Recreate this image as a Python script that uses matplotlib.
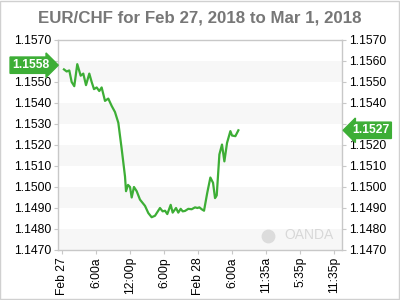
import matplotlib
matplotlib.use("Agg")
import matplotlib.pyplot as plt
import numpy as np

plt.rcParams['font.family'] = ['Liberation Sans', 'DejaVu Sans']

# EUR/CHF quotes: hours since Feb 27 00:00 and rate
hours = [0.35, 0.83, 1.29, 1.71, 2.17, 2.70, 3.30, 3.76, 4.24, 4.82, 5.24, 5.65,
         6.12, 6.58, 7.00, 7.59, 8.17, 8.77, 9.35, 9.94, 10.54, 11.12, 11.30,
         11.65, 12.00, 12.30, 12.70, 13.18, 13.76, 14.65, 15.23, 15.82, 16.41,
         17.29, 17.76, 18.18, 18.58, 19.18, 19.53, 20.12, 20.52, 20.94, 21.30,
         21.70, 22.29, 22.88, 23.47, 23.89, 24.24, 24.65, 25.06, 25.62, 26.18,
         26.65, 27.00, 27.30, 27.77, 28.23, 28.65, 29.12, 29.71, 30.00, 30.59,
         31.12]
rates = [1.1556, 1.1555, 1.15555, 1.1550, 1.1548, 1.15585, 1.1553, 1.1554,
         1.15485, 1.1554, 1.1550, 1.15466, 1.15474, 1.15457, 1.15474, 1.1541,
         1.15421, 1.15386, 1.15357, 1.15306, 1.1518, 1.1505, 1.1498, 1.1501,
         1.1500, 1.1495, 1.1500, 1.1498, 1.1494, 1.1491, 1.14876, 1.14856,
         1.14863, 1.1490, 1.14884, 1.14887, 1.14871, 1.14915, 1.14878, 1.1490,
         1.14878, 1.14896, 1.14884, 1.14886, 1.14896, 1.14894, 1.14903, 1.14900,
         1.14903, 1.14894, 1.14887, 1.14971, 1.15045, 1.1502, 1.14947, 1.1496,
         1.15155, 1.15202, 1.15122, 1.1521, 1.15266, 1.15245, 1.15242, 1.1527]

tick_hours = [0, 6, 12, 18, 24, 30, 36, 42, 48]
tick_labels = ["Feb 27", "6:00a", "12:00p", "6:00p", "Feb 28", "6:00a",
               "11:35a", "5:35p", "11:35p"]
y_ticks = [1.1470, 1.1480, 1.1490, 1.1500, 1.1510, 1.1520, 1.1530,
           1.1540, 1.1550, 1.1560, 1.1570]
open_label = 1.1558
last_label = 1.1527

green = "#3dae36"
spine_col = "#c8c8c8"

fig = plt.figure(figsize=(4, 3), dpi=100)
fig.patch.set_facecolor("white")
fig.patches.append(plt.Rectangle((0.001, 0.002), 0.997, 0.996, transform=fig.transFigure,
                                 fill=False, edgecolor="#d0d0d0", linewidth=1))

ax = fig.add_axes([0.145, 0.1667, 0.71, 0.70])
ax.set_xlim(-0.7, 49.4)
ax.set_ylim(1.1470, 1.1570)

# alternating horizontal bands
for lo in [1.1470, 1.1490, 1.1510, 1.1530, 1.1550]:
    ax.axhspan(lo, lo + 0.0010, color="#f7f7f7", zorder=0, lw=0)

ax.plot(hours, rates, color=green, lw=1.6, zorder=2, solid_joinstyle="round")

for s in ax.spines.values():
    s.set_color(spine_col)
    s.set_linewidth(1)

ax.set_yticks(y_ticks)
ax.set_yticklabels([f"{v:.4f}" for v in y_ticks])
ax.tick_params(axis="y", which="both", left=True, right=True, labelleft=True,
               labelright=True, length=3, color=spine_col, labelsize=8.7,
               labelcolor="black", pad=2)
ax.set_xticks(tick_hours)
ax.set_xticklabels(tick_labels, rotation=90)
ax.tick_params(axis="x", length=3, color=spine_col, labelsize=8.7,
               labelcolor="black", pad=2)

# tick labels sitting under the value flags are hidden
for tick in ax.yaxis.get_major_ticks():
    v = round(tick.get_loc(), 4)
    if abs(v - open_label) < 0.0005:
        tick.label1.set_visible(False)
    if abs(v - last_label) < 0.0005:
        tick.label2.set_visible(False)

fig.text(0.5, 0.94, "EUR/CHF for Feb 27, 2018 to Mar 1, 2018", ha="center",
         va="center", fontsize=12.2, fontweight="bold", color="#777777")

# value flags
ax.text(-0.03, open_label, f"{open_label:.4f}", transform=ax.get_yaxis_transform(),
        ha="right", va="center", color="white", fontsize=8.7, fontweight="bold",
        zorder=5, clip_on=False,
        bbox=dict(boxstyle="rarrow,pad=0.18", fc=green, ec=green))
ax.text(1.035, last_label, f"{last_label:.4f}", transform=ax.get_yaxis_transform(),
        ha="left", va="center", color="white", fontsize=8.7, fontweight="bold",
        zorder=5, clip_on=False,
        bbox=dict(boxstyle="larrow,pad=0.18", fc=green, ec=green))

# watermark
ax.text(0.97, 0.04, "OANDA", transform=ax.transAxes, ha="right", va="bottom",
        fontsize=10, color="#d8d8d8", zorder=1)
ax.scatter([0.74], [0.065], s=80, transform=ax.transAxes, color="#dcdcdc", zorder=1)

fig.savefig("out.png", dpi=100)
